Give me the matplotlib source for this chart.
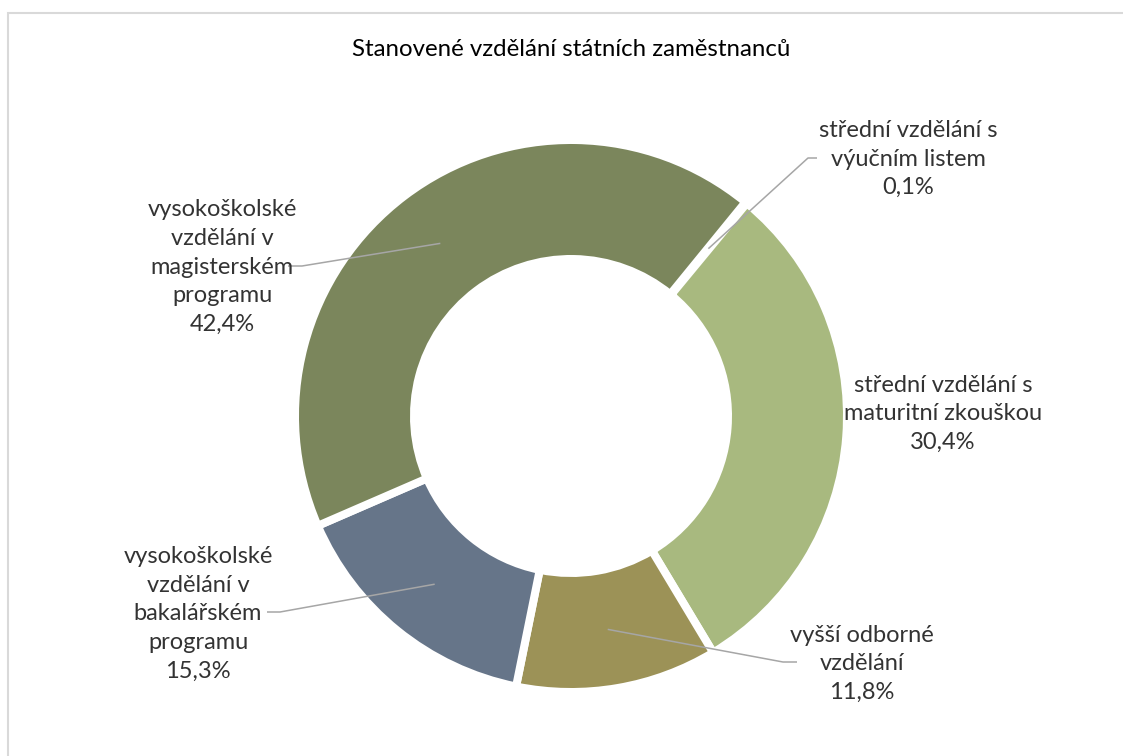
import matplotlib
matplotlib.use('Agg')
import matplotlib.pyplot as plt
import numpy as np
from matplotlib.patches import Rectangle

# data (clockwise order, as in the source chart)
labels = ['střední vzdělání s\nvýučním listem',
          'střední vzdělání s\nmaturitní zkouškou',
          'vyšší odborné\nvzdělání',
          'vysokoškolské\nvzdělání v\nbakalářském\nprogramu',
          'vysokoškolské\nvzdělání v\nmagisterském\nprogramu']
shares = [0.1, 30.4, 11.8, 15.3, 42.4]
colors = ['#BFBFBF', '#A8B97F', '#9C9257', '#667589', '#7B865C']
title = 'Stanovené vzdělání státních zaměstnanců'

W, H = 1123, 756
def Y(y):
    # pixel row -> data y
    return H - y

fig = plt.figure(figsize=(W / 100, H / 100), dpi=100)
ax = fig.add_axes([0, 0, 1, 1])

cx, cy = 571, 416
r_out, r_in = 272, 161
gap = 8  # px, white separators
start = 39.2  # degrees clockwise from 12 o'clock

lw = gap * 72 / 100
wedges, _ = ax.pie(shares, colors=colors, startangle=90 - start, counterclock=False,
                   center=(cx, Y(cy)), radius=r_out + gap / 2, frame=True,
                   wedgeprops=dict(width=(r_out - r_in) + gap, edgecolor='white',
                                   linewidth=lw))

ax.set_xlim(0, W)
ax.set_ylim(0, H)
ax.set_aspect('equal')
ax.axis('off')

# label layout: text centre, elbow of leader, end of leader (pixels)
lab_pos = [(908, 159), (943, 414), (862, 664), (198, 614), (222, 267)]
elbows = [(808, 158), None, (783, 662), (280, 612), (302, 266)]
ends = [(817, 158), None, (797, 662), (267, 612), (288, 266)]

fnt = 'Lato'
r_mid = (r_out + r_in) / 2
for w, lab, s, pos, el, en in zip(wedges, labels, shares, lab_pos, elbows, ends):
    txt = lab + '\n' + ('%.1f' % s).replace('.', ',') + '%'
    ax.text(pos[0], Y(pos[1]), txt, ha='center', va='center', fontsize=17,
            family=fnt, color='#333333', linespacing=1.45)
    if el is not None:
        ang = np.deg2rad((w.theta1 + w.theta2) / 2)
        x0 = cx + r_mid * np.cos(ang)
        y0 = Y(cy) + r_mid * np.sin(ang)
        ax.plot([x0, el[0], en[0]], [y0, Y(el[1]), Y(en[1])], color='#A6A6A6',
                lw=1.1, solid_capstyle='butt')

ax.text(cx, Y(50), title, ha='center', va='center', fontsize=17.3,
        family=fnt, color='black')

# chart border (cut off at right and bottom)
fig.patches.append(Rectangle((8 / W, -0.1), 1.2, (H - 13) / H + 0.1,
                             transform=fig.transFigure, fill=False,
                             edgecolor='#D9D9D9', linewidth=1.5))

fig.savefig('out.png', dpi=100, facecolor='white')
